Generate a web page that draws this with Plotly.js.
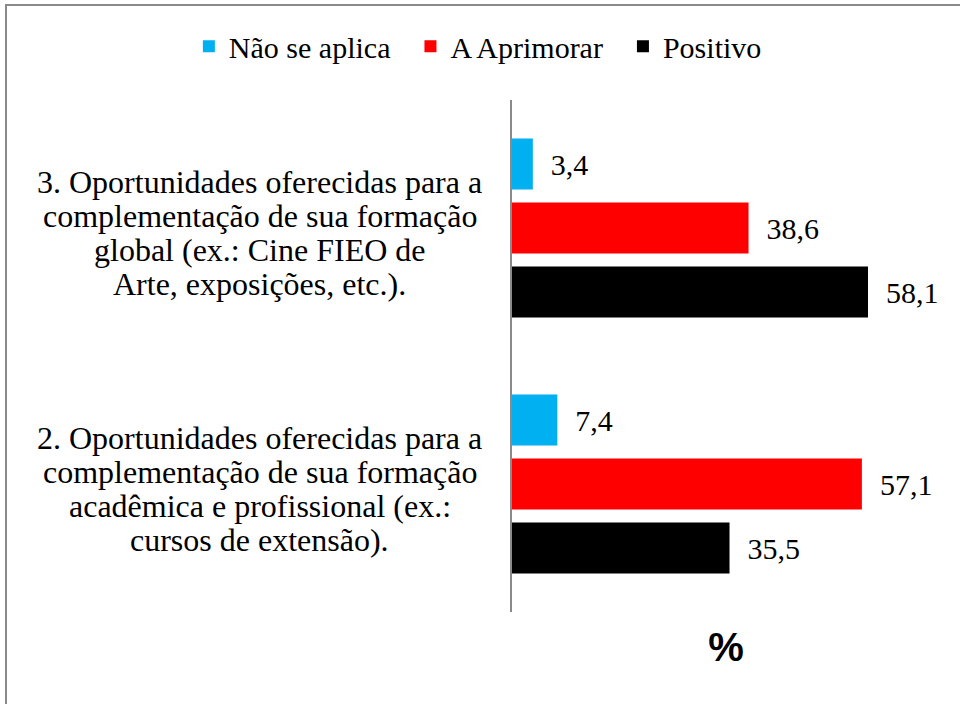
<!DOCTYPE html>
<html>
<head>
<meta charset="utf-8">
<script src="https://cdn.plot.ly/plotly-3.0.1.min.js"></script>
<style>
  html, body { margin: 0; padding: 0; background: #fff; }
  #wrap { position: relative; width: 960px; height: 704px; overflow: hidden; }
  #chart { width: 960px; height: 704px; }
  #frame { position: absolute; left: 5px; top: 4px; width: 980px; height: 720px;
           border-top: 2px solid #8a8a8a; border-left: 2px solid #8a8a8a; pointer-events: none; }
</style>
</head>
<body>
<div id="wrap"><div id="chart"></div><div id="frame"></div></div>
<script>
// Categories (top to bottom)
const categories = [
  "3. Oportunidades oferecidas para a<br>complementação de sua formação<br>global (ex.: Cine FIEO de<br>Arte, exposições, etc.).",
  "2. Oportunidades oferecidas para a<br>complementação de sua formação<br>acadêmica e profissional (ex.:<br>cursos de extensão)."
];
const seriesNames = ["Não se aplica", "A Aprimorar", "Positivo"];
const naoSeAplica = [3.4, 7.4];
const aAprimorar  = [38.6, 57.1];
const positivo    = [58.1, 35.5];
const axisTitle = "%";

const colors = ["#00B0F0", "#FF0000", "#000000"];
const seriesValues = [naoSeAplica, aAprimorar, positivo];
const SERIF = "Liberation Serif";
const SANS = "Liberation Sans";

function fmt(v) { return "\u00a0\u00a0" + v.toFixed(1).replace(".", ","); }

const traces = seriesValues.map((vals, i) => ({
  type: "bar",
  orientation: "h",
  // trailing non-breaking spaces widen the gap between legend entries
  name: seriesNames[i] + (i < seriesNames.length - 1 ? "\u00a0\u00a0" : ""),
  y: categories,
  x: vals,
  marker: { color: colors[i] },
  text: vals.map(fmt),
  textposition: "outside",
  cliponaxis: false,
  textfont: { family: SERIF, size: 30, color: "#000" },
  hoverinfo: "skip"
}));

// Category labels drawn line by line, centred, tight line spacing
const annotations = [];
const lineGap = 34;
categories.forEach(cat => {
  const lines = cat.split("<br>");
  const n = lines.length;
  lines.forEach((ln, j) => {
    annotations.push({
      xref: "paper", yref: "y",
      x: -0.589, y: cat,
      xanchor: "center", yanchor: "middle",
      text: ln, showarrow: false,
      yshift: -((j - (n - 1) / 2) * lineGap) - 5,
      font: { family: SERIF, size: 32, color: "#000" }
    });
  });
});

const layout = {
  width: 960, height: 704,
  font: { family: SERIF, size: 30, color: "#000" },
  margin: { l: 512, r: 20, t: 100, b: 92, autoexpand: false },
  paper_bgcolor: "#fff", plot_bgcolor: "#fff",
  barmode: "group",
  bargap: 0.25,
  bargroupgap: 0.2,
  showlegend: true,
  legend: {
    orientation: "h",
    xref: "paper", yref: "paper",
    x: -0.755, y: 1.105,
    xanchor: "left", yanchor: "middle",
    font: { family: SERIF, size: 30, color: "#000" },
    itemclick: false
  },
  xaxis: {
    range: [0, 69.85],
    showgrid: false, zeroline: false, showline: false,
    showticklabels: false, ticks: "",
    title: { text: axisTitle, font: { family: SANS, size: 40, color: "#000", weight: "bold" }, standoff: 20 }
  },
  yaxis: {
    type: "category",
    categoryorder: "array", categoryarray: categories,
    autorange: "reversed",
    showgrid: false, zeroline: false,
    showline: true, linecolor: "#8a8a8a", linewidth: 1.5,
    showticklabels: false, ticks: ""
  },
  annotations: annotations
};

Plotly.newPlot("chart", traces, layout, { displayModeBar: false });
</script>
</body>
</html>
